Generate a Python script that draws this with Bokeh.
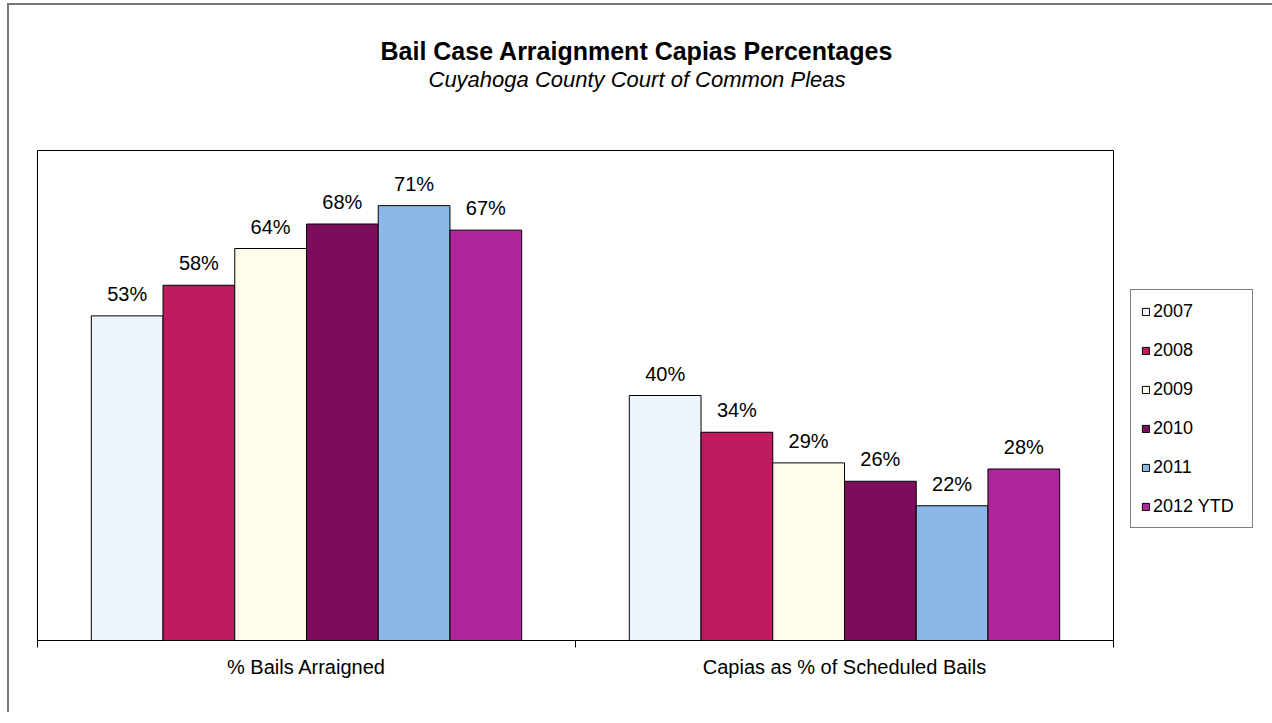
from bokeh.plotting import figure
from bokeh.models import (ColumnDataSource, LabelSet, Legend, LegendItem, Title,
                          FixedTicker, Range1d)
from bokeh.core.properties import value
from bokeh.embed import file_html
from bokeh.resources import INLINE

# ---- data ----
categories = ["% Bails Arraigned", "Capias as % of Scheduled Bails"]
years = ["2007", "2008", "2009", "2010", "2011", "2012 YTD"]
pct_arraigned = [53, 58, 64, 68, 71, 67]
pct_capias = [40, 34, 29, 26, 22, 28]
colors = ["#EEF4FB", "#C01A5E", "#FFFDEA", "#7C0C5C", "#8CB8E8", "#B0259A"]
title_text = "Bail Case Arraignment Capias Percentages"
subtitle_text = "Cuyahoga County Court of Common Pleas"

FONT = "Liberation Sans"
group_width = 0.8
n = len(years)
bw = group_width / n

p = figure(frame_width=1076, frame_height=490, x_range=Range1d(0, 2), y_range=Range1d(0, 80),
           output_backend="svg", toolbar_location=None,
           min_border_left=28, min_border_right=152, min_border_top=145, min_border_bottom=72)

p.xgrid.visible = False
p.ygrid.visible = False
p.yaxis.visible = False
p.outline_line_color = "black"
p.outline_line_width = 1

items = []
lx, ly, lt = [], [], []
for j, yr in enumerate(years):
    vals = [pct_arraigned[j], pct_capias[j]]
    xs = [ci + 0.5 + (j - (n - 1) / 2) * bw for ci in range(len(categories))]
    src = ColumnDataSource(dict(x=xs, top=vals))
    r = p.vbar(x="x", top="top", width=bw, bottom=0, source=src,
               fill_color=colors[j], line_color="black", line_width=1)
    items.append(LegendItem(label=yr, renderers=[r]))
    lx += xs
    ly += vals
    lt += [f"{v}%" for v in vals]

lsrc = ColumnDataSource(dict(x=lx, y=ly, t=lt))
labels = LabelSet(x="x", y="y", text="t", source=lsrc, text_align="center",
                  text_baseline="bottom", y_offset=11, text_font=value(FONT),
                  text_font_size=value("20px"), text_color="black")
p.add_layout(labels)

# x axis: category labels at centers, boundary ticks as minor ticks
ax = p.xaxis[0]
ax.ticker = FixedTicker(ticks=[0.5, 1.5], minor_ticks=[0, 1, 2])
ax.major_label_overrides = {0.5: categories[0], 1.5: categories[1]}
ax.major_tick_line_color = None
ax.major_tick_out = 0
ax.major_tick_in = 0
ax.minor_tick_line_color = "black"
ax.minor_tick_in = 0
ax.minor_tick_out = 7
ax.axis_line_color = "black"
ax.major_label_text_font = FONT
ax.major_label_text_font_size = "20px"
ax.major_label_text_color = "black"
ax.major_label_standoff = 8

legend = Legend(items=items, location=(17, 112), border_line_color="black",
                border_line_width=1, label_text_font=FONT, label_text_font_size="18px",
                label_text_color="black",
                glyph_width=9, glyph_height=9, label_height=22, label_width=89,
                padding=10, spacing=17, label_standoff=3, margin=0,
                background_fill_color="white")
p.add_layout(legend, "right")

spacer = Title(text=" ", text_font=FONT, text_font_size="10px", standoff=46)
sub = Title(text=subtitle_text, align="left", offset=391, standoff=0,
            text_font=FONT, text_font_style="italic", text_font_size="22px",
            text_color="black")
main = Title(text=title_text, align="left", offset=343, standoff=0,
             text_font=FONT, text_font_style="bold", text_font_size="25px",
             text_color="black")
p.add_layout(spacer, "above")
p.add_layout(sub, "above")
p.add_layout(main, "above")

p.styles = {"border-top": "2px solid #777777", "border-left": "2px solid #777777",
            "margin-left": "7px", "margin-top": "3px"}

open("out.html", "w").write(file_html(p, INLINE))
